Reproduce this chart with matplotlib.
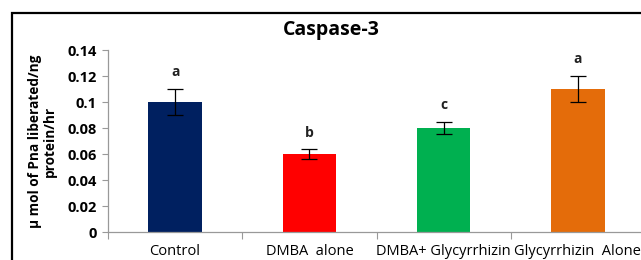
import matplotlib.pyplot as plt
import numpy as np
from matplotlib.patches import Rectangle

groups = ['Control', 'DMBA  alone', 'DMBA+ Glycyrrhizin', 'Glycyrrhizin  Alone']
values = [0.100, 0.060, 0.080, 0.110]
errors = [0.010, 0.0035, 0.0045, 0.010]
letters = ['a', 'b', 'c', 'a']
colors = ['#002060', '#FF0000', '#00B050', '#E46C0A']

plt.rcParams['font.family'] = ['Open Sans', 'DejaVu Sans']

fig = plt.figure(figsize=(6.41, 2.60), dpi=100)
ax = fig.add_axes([108 / 641, 1 - 232 / 260, 537 / 641, 182 / 260])

x = np.arange(len(groups))
ax.bar(x, values, width=0.4, color=colors, zorder=2)
ax.errorbar(x, values, yerr=errors, fmt='none', ecolor='black',
            elinewidth=0.9, capsize=5.5, capthick=0.9, zorder=3)
for xi, v, e, t in zip(x, values, errors, letters):
    ax.text(xi, v + e + 0.013, t, ha='center', va='center',
            fontsize=10, fontweight='bold', color='#222222')

ax.set_xlim(-0.5, len(groups) - 0.5)
ax.set_ylim(0, 0.14)
ax.set_yticks([0, 0.02, 0.04, 0.06, 0.08, 0.1, 0.12, 0.14])
ax.set_yticklabels(['0', '0.02', '0.04', '0.06', '0.08', '0.1', '0.12', '0.14'],
                   fontsize=10.5, fontweight='bold')
ax.set_xticks(x)
ax.set_xticklabels(groups, fontsize=10.5)
ax.tick_params(axis='x', length=0, pad=8.5)
ax.set_xticks(np.arange(-0.5, len(groups), 1), minor=True)
ax.tick_params(axis='x', which='minor', length=5, color='#999999', width=0.8)
ax.tick_params(axis='y', length=4, color='#999999', width=0.8, pad=4)

for s in ['top', 'right']:
    ax.spines[s].set_visible(False)
for s in ['left', 'bottom']:
    ax.spines[s].set_color('#999999')
    ax.spines[s].set_linewidth(0.9)

ax.set_ylabel('\u00b5 mol of Pna liberated/ng\nprotein/hr', fontsize=9.8,
              fontweight='bold', labelpad=8, linespacing=1.05)

fig.text(331 / 641, 1 - 30 / 260, 'Caspase-3', ha='center', va='center',
         fontsize=14, fontweight='bold')

fig.patches.append(Rectangle((12 / 641, -0.1), 1.0, 1 - 13 / 260 + 0.1,
                             transform=fig.transFigure, fill=False,
                             edgecolor='black', linewidth=1.6))

fig.savefig('out.png', dpi=100)
